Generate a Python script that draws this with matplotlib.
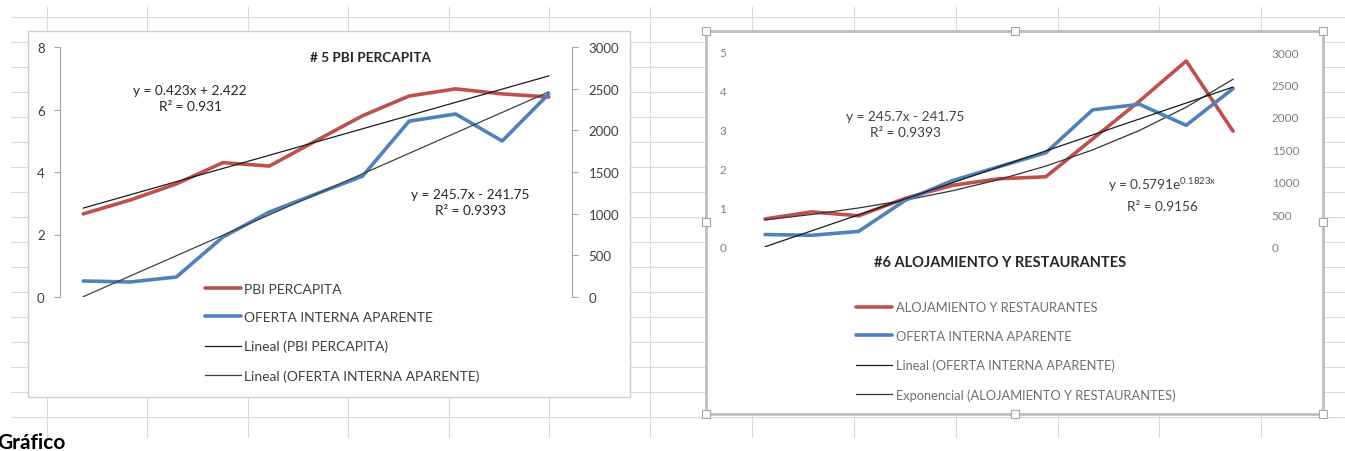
import matplotlib
matplotlib.use("Agg")
import matplotlib.pyplot as plt
import numpy as np
from matplotlib.patches import Rectangle

plt.rcParams['font.family'] = ['Lato', 'DejaVu Sans']
plt.rcParams['mathtext.fontset'] = 'custom'
plt.rcParams['mathtext.rm'] = 'Lato'
plt.rcParams['mathtext.default'] = 'regular'

# ---- data ----
periods = np.arange(1, 12)
pbi_percapita = [2.66, 3.1, 3.62, 4.3, 4.19, 5.0, 5.8, 6.43, 6.66, 6.5, 6.4]
oferta_interna = [192, 180, 240, 720, 1020, 1236, 1450, 2110, 2196, 1872, 2436]
alojamiento = [0.72, 0.9, 0.8, 1.25, 1.58, 1.75, 1.8, 2.77, 3.74, 4.77, 2.97]

# trendline coefficients as printed by Excel
pbi_lin = (0.423, 2.422, 0.931)
oferta_lin = (245.7, -241.75, 0.9393)
aloj_exp = (0.5791, 0.1823, 0.9156)

RED = '#c0504d'
BLUE = '#4f81bd'

W, H = 1345, 452
fig = plt.figure(figsize=(W / 100, H / 100), dpi=100)


def rect(l, t, r, b):
    return [l / W, 1 - b / H, (r - l) / W, (b - t) / H]


# ---- excel sheet background ----
bg = fig.add_axes([0, 0, 1, 1])
bg.set_xlim(0, W)
bg.set_ylim(H, 0)
bg.axis('off')
for gx in [47, 147, 248, 348, 449, 549, 650, 752, 854, 956, 1058, 1159, 1261]:
    bg.plot([gx, gx], [8, 438], color='#d9d9d9', lw=0.8, zorder=0)
for gy in range(18, 430, 25):
    bg.plot([11, W], [gy, gy], color='#d9d9d9', lw=0.8, zorder=0)

bg.add_patch(Rectangle((28, 32), 602, 366, facecolor='white', edgecolor='#d0d0d0', lw=1, zorder=1))
bg.add_patch(Rectangle((706, 32), 617, 383, facecolor='white', edgecolor='#bfbfbf', lw=2, zorder=1))
for hx in [706, 1015, 1323]:
    for hy in [32, 223, 415]:
        if hx == 1015 and hy == 223:
            continue
        bg.add_patch(Rectangle((hx - 4, hy - 4), 8, 8, facecolor='white', edgecolor='#a6a6a6', lw=0.8, zorder=2))

bg.text(-3, 443, 'Gráfico', fontsize=15, fontweight='bold', color='black', va='center', ha='left')

# ---- chart 1: # 5 PBI PERCAPITA ----
ax1 = fig.add_axes(rect(60, 48, 572, 298))
ax1.patch.set_alpha(0)
ax1.set_xlim(0.5, 11.5)
ax1.set_ylim(0, 8)
ax1.set_yticks([0, 2, 4, 6, 8])
ax1.set_xticks([])
for s in ['top', 'bottom', 'right']:
    ax1.spines[s].set_visible(False)
ax1.spines['left'].set_color('#a6a6a6')
ax1.tick_params(axis='y', direction='out', length=4, color='#a6a6a6', labelsize=9.5, labelcolor='#404040', pad=7)
l_pbi, = ax1.plot(periods, pbi_percapita, color=RED, lw=2.6, solid_capstyle='round')
t_pbi, = ax1.plot(periods, pbi_lin[0] * periods + pbi_lin[1], color='#1a1a1a', lw=0.9)

ax1b = ax1.twinx()
ax1b.set_ylim(0, 3000)
ax1b.set_yticks(range(0, 3001, 500))
for s in ['top', 'bottom', 'left']:
    ax1b.spines[s].set_visible(False)
ax1b.spines['right'].set_color('#a6a6a6')
ax1b.tick_params(axis='y', direction='out', length=4, color='#a6a6a6', labelsize=9.5, labelcolor='#404040', pad=8)
l_of1, = ax1b.plot(periods, oferta_interna, color=BLUE, lw=2.6, solid_capstyle='round')
t_of1, = ax1b.plot(periods, oferta_lin[0] * periods + oferta_lin[1], color='#404040', lw=0.9)

bg.text(371, 58, '# 5 PBI PERCAPITA', fontsize=9.8, fontweight='bold', color='#262626', ha='center', va='center', zorder=5)
bg.text(190, 99, 'y = %.3fx + %.3f\nR² = %.3f' % pbi_lin, fontsize=9.8, color='#262626',
        ha='center', va='center', linespacing=1.35, zorder=5)
bg.text(470, 203, 'y = %.1fx - %.2f\nR² = %.4f' % (oferta_lin[0], -oferta_lin[1], oferta_lin[2]),
        fontsize=9.8, color='#262626', ha='center', va='center', linespacing=1.35, zorder=5)

fig.legend([l_pbi, l_of1, t_pbi, t_of1],
           ['PBI PERCAPITA', 'OFERTA INTERNA APARENTE', 'Lineal (PBI PERCAPITA)', 'Lineal (OFERTA INTERNA APARENTE)'],
           loc='upper left', bbox_to_anchor=(199 / W, 1 - 278 / H), frameon=False, fontsize=10,
           handlelength=2.6, handletextpad=0.25, labelspacing=1.2, labelcolor='#404040', borderaxespad=0)

# ---- chart 2: #6 ALOJAMIENTO Y RESTAURANTES ----
ax2 = fig.add_axes(rect(741.6, 53, 1256.4, 248))
ax2.patch.set_alpha(0)
ax2.set_xlim(0.5, 11.5)
ax2.set_ylim(0, 5)
ax2.set_yticks(range(0, 6))
ax2.set_xticks([])
for s in ax2.spines.values():
    s.set_visible(False)
ax2.tick_params(axis='y', length=0, labelsize=8.5, labelcolor='#7f7f7f', pad=11)
l_al, = ax2.plot(periods, alojamiento, color=RED, lw=2.6, solid_capstyle='round')
t_al, = ax2.plot(periods, aloj_exp[0] * np.exp(aloj_exp[1] * periods), color='#333333', lw=0.9)

ax2b = ax2.twinx()
ax2b.set_ylim(0, 3000)
ax2b.set_yticks(range(0, 3001, 500))
for s in ax2b.spines.values():
    s.set_visible(False)
ax2b.tick_params(axis='y', length=0, labelsize=8.5, labelcolor='#7f7f7f', pad=11)
l_of2, = ax2b.plot(periods, oferta_interna, color=BLUE, lw=2.6, solid_capstyle='round')
t_of2, = ax2b.plot(periods, oferta_lin[0] * periods + oferta_lin[1], color='#1a1a1a', lw=0.9)

bg.text(1000, 263, '#6 ALOJAMIENTO Y RESTAURANTES', fontsize=10.5, fontweight='bold', color='#262626',
        ha='center', va='center', zorder=5)
bg.text(905, 125, 'y = %.1fx - %.2f\nR² = %.4f' % (oferta_lin[0], -oferta_lin[1], oferta_lin[2]),
        fontsize=9.8, color='#404040', ha='center', va='center', linespacing=1.35, zorder=5)
bg.text(1162, 185, 'y = %.4fe$^{%.4fx}$' % (aloj_exp[0], aloj_exp[1]), fontsize=9.8, color='#404040',
        ha='center', va='center', zorder=5)
bg.text(1162, 207, 'R² = %.4f' % aloj_exp[2], fontsize=9.8, color='#404040', ha='center', va='center', zorder=5)

fig.legend([l_al, l_of2, t_of2, t_al],
           ['ALOJAMIENTO Y RESTAURANTES', 'OFERTA INTERNA APARENTE', 'Lineal (OFERTA INTERNA APARENTE)',
            'Exponencial (ALOJAMIENTO Y RESTAURANTES)'],
           loc='upper left', bbox_to_anchor=(851 / W, 1 - 297 / H), frameon=False, fontsize=9.3,
           handlelength=2.8, handletextpad=0.25, labelspacing=1.3, labelcolor='#6f6f6f', borderaxespad=0)

fig.savefig('out.png', dpi=100)
